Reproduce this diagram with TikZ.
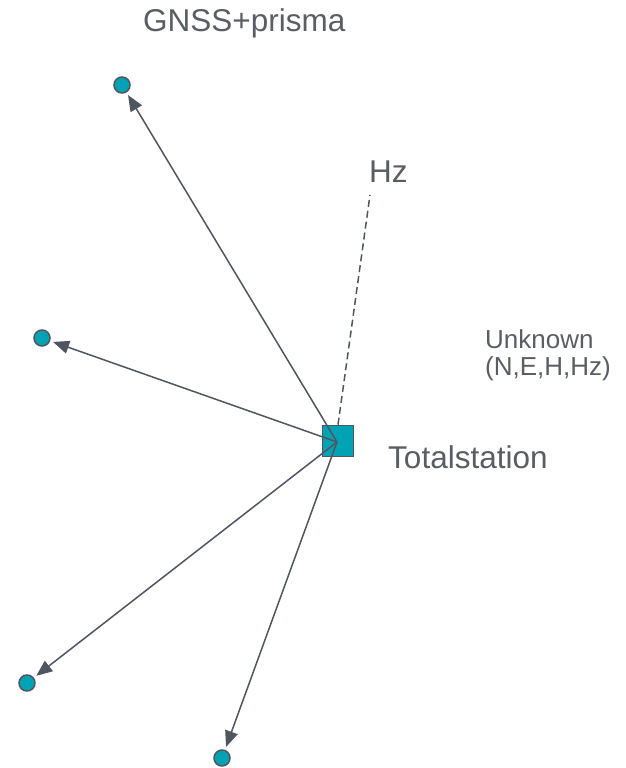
\documentclass[tikz,border=0pt]{standalone}
\usepackage{fontspec}
\setmainfont{Liberation Sans}
\usetikzlibrary{arrows.meta}
\definecolor{teal1}{RGB}{0,163,180}
\definecolor{edge}{RGB}{80,86,96}
\definecolor{txt}{RGB}{90,94,100}
\tikzset{
  target/.style={circle, draw=edge, fill=teal1, line width=1.5pt, minimum size=16pt, inner sep=0pt},
  station/.style={rectangle, draw=edge, fill=teal1, line width=1.6pt, minimum size=31pt, inner sep=0pt},
  ray/.style={draw=edge, line width=1.5pt, shorten >=3pt, -{Triangle[length=16pt,width=13pt]}},
  bigtext/.style={text=txt, font=\fontsize{31.5}{38}\selectfont, anchor=base west, inner sep=0pt},
  smalltext/.style={text=txt, font=\fontsize{26}{31}\selectfont, anchor=base west, inner sep=0pt, align=left}
}
\begin{document}
\begin{tikzpicture}[x=1pt, y=-1pt]
  \useasboundingbox (0,0) rectangle (626,768);

  % station and targets
  \node[station] (ts) at (338,441) {};
  \coordinate (c) at (337,442);
  \node[target] (p1) at (122,85) {};
  \node[target] (p2) at (42,338) {};
  \node[target] (p3) at (27,683) {};
  \node[target] (p4) at (222,758) {};

  % horizontal direction
  \coordinate (hz) at (370,195);
  \draw[draw=edge, line width=1.5pt, dash pattern=on 7pt off 4pt] (ts.north) -- (hz);

  % observations to the targets
  \draw[ray] (c) -- (p1);
  \draw[ray] (c) -- (p2);
  \draw[ray] (c) -- (p3);
  \draw[ray] (c) -- (p4);

  % labels
  \node[bigtext] (lgnss) at (143,32) {GNSS+prisma};
  \node[bigtext] (lhz) at (369,182) {Hz};
  \node[bigtext] (lts) at (388,468) {Totalstation};
  \node[smalltext] (lunk) at (485,348) {Unknown};
  \node[smalltext] (lpar) at (485,375) {(N,E,H,Hz)};
\end{tikzpicture}
\end{document}
